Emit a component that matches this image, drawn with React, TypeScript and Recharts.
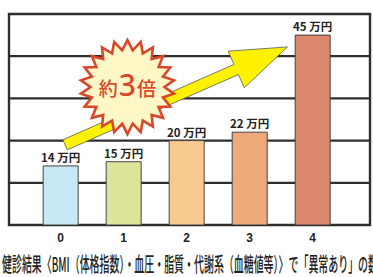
import React from 'react';
import { BarChart, Bar, XAxis, YAxis, CartesianGrid, Cell, LabelList, ReferenceArea, ReferenceLine, ReferenceDot } from 'recharts';

const categories = [0, 1, 2, 3, 4];
const costs = [14, 15, 20, 22, 45];
const barColors = ['#c8e8f6', '#dce598', '#f9ca90', '#eeaa7b', '#dc866b'];
const yTicks = [0, 10, 20, 30, 40, 50];
const unitLabel = '万円';
const burstText = ['約', '3', '倍'];
const caption = '健診結果〈BMI（体格指数）・血圧・脂質・代謝系（血糖値等）〉で「異常あり」の数';
const arrowFrom = { x: 0.07, y: 19 };
const arrowTo = { x: 3.6, y: 42.2 };
const burstAt = { x: 1.06, y: 32.7 };

const data = categories.map((c, i) => ({ c, v: costs[i] }));

const Arrow = (p: any) => {
  const { x1, y1, x2, y2 } = p;
  const dx = x2 - x1, dy = y2 - y1;
  const len = Math.sqrt(dx * dx + dy * dy);
  const ux = dx / len, uy = dy / len;
  const nx = -uy, ny = ux;
  const hw = 5.5, hl = 56, hh = 20;
  const bx = x1 + ux * (len - hl), by = y1 + uy * (len - hl);
  const pts = [
    [x1 + nx * hw, y1 + ny * hw],
    [bx + nx * hw, by + ny * hw],
    [bx + nx * hh, by + ny * hh],
    [x2, y2],
    [bx - nx * hh, by - ny * hh],
    [bx - nx * hw, by - ny * hw],
    [x1 - nx * hw, y1 - ny * hw],
  ];
  return <polygon points={pts.map((q) => q.join(',')).join(' ')} fill="#fff200" stroke="#555" strokeWidth={0.8} strokeLinejoin="miter" />;
};

const Burst = (p: any) => {
  const { cx, cy } = p;
  const n = 22, ro = 47, ri = 37;
  const pts: string[] = [];
  for (let i = 0; i < n * 2; i++) {
    const r = i % 2 === 0 ? ro : ri;
    const a = (Math.PI * i) / n - Math.PI / 2;
    pts.push(`${cx + r * Math.cos(a)},${cy + r * Math.sin(a)}`);
  }
  return (
    <g>
      <polygon points={pts.join(' ')} fill="#fff7c6" stroke="#d8472a" strokeWidth={2.6} strokeLinejoin="miter" />
      <text x={cx} y={cy + 9} textAnchor="middle" fill="#d9482a" fontFamily="'Noto Sans CJK JP', sans-serif" fontWeight={500}>
        <tspan fontSize={19}>{burstText[0]}</tspan>
        <tspan fontSize={30} fontFamily="'Liberation Sans Narrow', 'Noto Sans', sans-serif" dx={1}>{burstText[1]}</tspan>
        <tspan fontSize={19} dx={1}>{burstText[2]}</tspan>
      </text>
    </g>
  );
};

const BarLabel = (p: any) => {
  const { x, y, width, value } = p;
  return (
    <text x={x + width / 2} y={y - 4} textAnchor="middle" fill="#222" fontSize={11.5} fontWeight={600} fontFamily="'Noto Sans CJK JP', sans-serif">
      {`${value} ${unitLabel}`}
    </text>
  );
};

export default function App() {
  return (
    <div style={{ position: 'absolute', left: 0, top: 0, width: 373, height: 277, background: '#fff' }}>
      <BarChart width={373} height={277} data={data} margin={{ top: 14, right: 3, left: 9, bottom: 22 }}>
        <CartesianGrid vertical={false} stroke="#2e2e2e" strokeWidth={2.2} strokeOpacity={1} />
        <XAxis
          dataKey="c"
          type="number"
          domain={[-0.82, 4.91]}
          ticks={categories}
          height={30}
          axisLine={false}
          tickLine={false}
          allowDataOverflow
          tick={{ fill: '#222', fontSize: 12, fontWeight: 600, fontFamily: "'Liberation Sans', Arial, sans-serif", dy: 0 }}
        />
        <YAxis hide domain={[0, 50]} ticks={yTicks} allowDataOverflow />
        <ReferenceArea x1={-0.82} x2={4.91} y1={0} y2={50} fill="none" stroke="#2e2e2e" strokeWidth={2.4} ifOverflow="visible" />
        <Bar dataKey="v" barSize={35} stroke="#444" strokeWidth={1} isAnimationActive={false}>
          {data.map((d, i) => (
            <Cell key={i} fill={barColors[i]} />
          ))}
          <LabelList dataKey="v" content={(p: any) => <BarLabel {...p} />} />
        </Bar>
        <ReferenceLine
          segment={[arrowFrom, arrowTo]}
          ifOverflow="visible"
          shape={(p: any) => <Arrow {...p} />}
        />
        <ReferenceDot x={burstAt.x} y={burstAt.y} ifOverflow="visible" shape={(p: any) => <Burst {...p} />} />
      </BarChart>
      <svg width={373} height={277} style={{ position: 'absolute', left: 0, top: 0, pointerEvents: 'none' }}>
        <text x={2} y={272} fontSize={20} fontWeight={500} fill="#222" fontFamily="'Noto Sans CJK JP', sans-serif" textLength={376} lengthAdjust="spacingAndGlyphs">
          {caption}
        </text>
      </svg>
    </div>
  );
}
